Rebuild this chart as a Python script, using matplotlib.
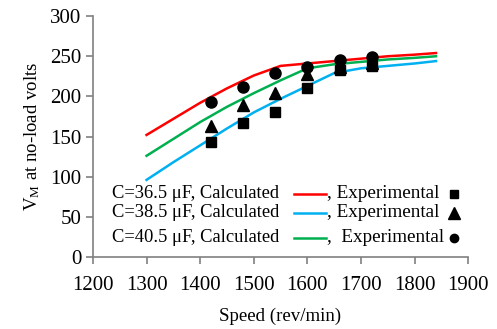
import numpy as np
import matplotlib.pyplot as plt
from matplotlib.lines import Line2D

plt.rcParams['font.family'] = ['Liberation Serif', 'DejaVu Serif']
plt.rcParams['mathtext.fontset'] = 'stix'

# calculated curves (speed, volts)
calc_speed = [1300, 1350, 1400, 1450, 1500, 1550, 1600, 1650, 1700, 1750, 1800, 1840]
calc_red = [152, 172, 192, 210, 226, 238, 241, 244, 247, 250, 252, 254]
calc_blue = [96, 118, 139, 160, 180, 197, 213, 229, 235, 238, 241, 244]
calc_green = [126, 147, 168, 187, 204, 220, 235, 240, 243, 246, 248, 250]

# experimental points
exp_speed = [1420, 1480, 1540, 1600, 1660, 1720]
exp_square = [143, 167, 180, 210, 233, 238]
exp_triangle = [163, 189, 204, 228, 236, 241]
exp_circle = [193, 212, 229, 237, 245, 249]

labels = ["C=36.5 \u03bcF, Calculated", "C=38.5 \u03bcF, Calculated", "C=40.5 \u03bcF, Calculated"]
exp_labels = [", Experimental", ", Experimental", ",  Experimental"]

red, blue, green = '#ff0000', '#00b0f0', '#00b050'

fig = plt.figure(figsize=(4.97, 3.29), dpi=100)
ax = fig.add_axes([0.187, 0.219, 0.755, 0.732])

ax.plot(calc_speed, calc_red, color=red, lw=1.8)
ax.plot(calc_speed, calc_blue, color=blue, lw=1.8)
ax.plot(calc_speed, calc_green, color=green, lw=1.8)
ax.plot(exp_speed, exp_square, 's', color='black', ms=7)
ax.plot(exp_speed, exp_triangle, '^', color='black', ms=8)
ax.plot(exp_speed, exp_circle, 'o', color='black', ms=8)

ax.set_xlim(1200, 1900)
ax.set_ylim(0, 300)
ax.set_xticks(np.arange(1200, 1901, 100))
ax.set_yticks(np.arange(0, 301, 50))
for s in ['top', 'right']:
    ax.spines[s].set_visible(False)
for s in ['left', 'bottom']:
    ax.spines[s].set_color('#808080')
    ax.spines[s].set_linewidth(1.2)
ax.tick_params(direction='out', length=5, width=1.2, color='#808080', labelsize=15)
ax.tick_params(axis='x', pad=9)
ax.set_xlabel('Speed (rev/min)', fontsize=13.6, labelpad=9)
ax.set_ylabel('V$_\\mathregular{M}$ at no-load volts', fontsize=13.5, labelpad=6)

# hand-made legend
row_y = [0.262, 0.183, 0.08]
line_colors = [red, blue, green]
markers = ['s', '^', 'o']
msizes = [6, 9, 6]
for i in range(3):
    y = row_y[i]
    ax.text(0.05, y, labels[i], transform=ax.transAxes, fontsize=13.3, va='center')
    ax.add_line(Line2D([0.535, 0.62], [y, y], transform=ax.transAxes, color=line_colors[i], lw=1.8))
    ax.text(0.625, y, exp_labels[i], transform=ax.transAxes, fontsize=13.8, va='center')
    ax.add_line(Line2D([0.963], [y], transform=ax.transAxes, marker=markers[i], color='black', ms=msizes[i]))

fig.savefig('out.png', dpi=100)
